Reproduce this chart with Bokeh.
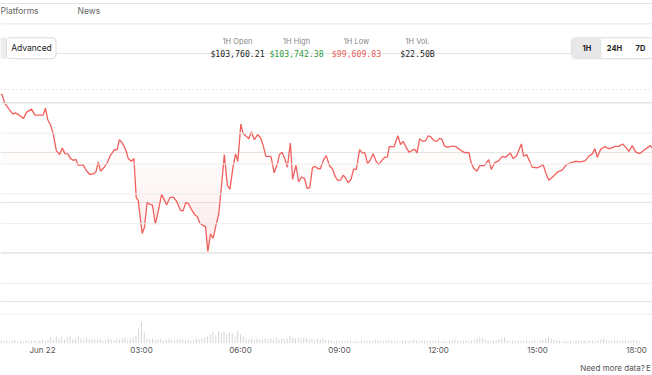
import numpy as np
from bokeh.plotting import figure
from bokeh.models import Range1d, FixedTicker, Span, LinearAxis
from bokeh.core.properties import value
from bokeh.embed import file_html
from bokeh.resources import INLINE

# ---- price series (hours after Jun 22 00:00, USD) ----
times = [-1.27,-1.22,-1.15,-1.02,-0.90,-0.82,-0.72,-0.58,-0.48,-0.33,
         -0.23,0.02,0.09,0.16,0.24,0.32,0.42,0.52,0.60,0.68,
         0.77,0.85,0.93,1.01,1.08,1.23,1.33,1.43,1.55,1.62,
         1.69,1.76,1.86,1.96,2.06,2.18,2.26,2.33,2.42,2.52,
         2.60,2.69,2.77,2.84,2.90,3.02,3.09,3.17,3.25,3.33,
         3.42,3.51,3.61,3.73,
         3.76,3.86,3.96,4.06,4.18,4.26,4.34,4.42,4.54,4.62,
         4.69,4.77,4.89,4.94,5.01,5.09,5.17,5.26,5.34,5.42,
         5.51,5.60,5.68,5.77,5.85,5.92,6.01,6.08,6.18,6.25,
         6.33,6.42,6.52,6.61,6.68,6.77,6.89,6.93,7.02,7.11,
         7.18,7.26,7.34,7.42,7.51,7.58,7.68,7.76,7.85,7.94,
         8.02,8.10,8.18,8.25,8.34,8.42,
         8.52,8.60,8.70,8.78,8.88,8.95,9.03,9.11,9.18,9.26,
         9.35,9.43,9.51,9.61,9.69,9.77,9.85,9.94,10.02,10.10,
         10.19,10.28,10.37,10.45,10.51,10.65,10.77,10.85,10.93,11.03,
         11.11,11.21,11.28,11.35,11.43,11.52,11.61,11.69,11.77,11.86,
         11.95,12.03,12.10,12.18,12.28,12.38,12.51,12.60,12.72,12.80,
         12.92,12.99,13.07,13.17,13.25,
         13.39,13.52,13.60,13.70,13.83,13.93,14.03,14.18,14.26,14.36,
         14.51,14.58,14.67,14.74,14.84,14.99,15.09,15.17,15.26,15.34,
         15.48,15.62,15.75,15.86,16.00,16.15,16.30,16.45,16.55,16.66,
         16.74,16.81,16.91,17.03,17.16,17.26,17.36,17.46,17.58,17.68,
         17.77,17.87,17.97,18.10,18.22,18.42,18.48]
prices = [103587,103580,103500,103440,103387,103400,103380,103343,103407,103437,
          103377,103377,103447,103330,103280,103197,103020,102980,103047,102990,
          102987,102940,102923,102933,102873,102877,102820,102780,102787,102807,
          102907,102813,102847,102897,102973,103030,103027,103130,103097,103030,
          102940,102913,102940,102547,102520,102187,102247,102497,102480,102473,
          102280,102413,102580,102497,
          102473,102547,102553,102513,102420,102413,102497,102487,102413,102373,
          102357,102290,102263,102253,102007,102180,102137,102273,102380,102647,
          102980,102673,102630,102847,102987,102913,103287,103193,103163,103140,
          103210,103130,103180,103147,103080,102963,102963,102953,102797,102880,
          102980,103003,102940,102853,103097,102730,102873,102707,102753,102740,
          102640,102647,102847,102863,102840,102837,
          102930,102970,102863,102840,102753,102720,102723,102773,102747,102697,
          102730,102837,102830,103030,102997,102997,102890,102930,102990,102920,
          102880,102920,102953,102957,103063,103057,103170,103080,103113,103047,
          103003,103027,103033,102997,103140,103113,103120,103170,103157,103120,
          103113,103143,103137,103067,103053,103063,103063,103040,103013,103000,
          103003,102897,102840,102813,102870,
          102870,102930,102830,102897,102920,102963,102953,102997,102940,102963,
          103087,102963,102980,102930,102853,102847,102863,102880,102787,102723,
          102763,102807,102823,102873,102897,102913,102907,102920,102963,102987,
          103040,102953,103030,103060,103040,103047,103063,103063,103087,103053,
          103013,103070,103007,102990,103023,103070,103047]

# ---- 5-minute volume bars ----
vol_start = -1.25   # hours
vol_step = 5 / 60
volumes = ([30,20,30,20,30,30,20,30,20,30,20,30,30,20,30,40,30,40]
           + [60,40,70,50,70,40,60,70,40,50,70,50,40,60,40,50,40,40,50,30,40,50,40,30,50,40,50,60,40,50]
           + [60,80,150,220,110]
           + [50,40,50,40,40,50,30,40,50,40,30,40,50,40,30,40,30,40,50,40,50,60]
           + [70,90,120,80,120,110,120,90,110,100,70,120,90]
           + [70,50,40,50,40,50,40,40,50,40,50,40,60,40,50,40,50,80,60,50,60,50,60,50,40,50,40,50,40,50,40,30]
           + [30,20,30,20,30,20,30,30,20,30,20,30,20,30,30,20,40,30]
           + [30,20,30,40,30,20,30,20,30,30,20,30,40,30,20,30,30,20]
           + [30,30,20,30,20,30,20,30,30,40,30,20,30,30,20,30,40,50]
           + [60,50,40,30,20,30,30,40,50,60,30,20,30,20,30,30,20,30]
           + [20,30,30,20,30,40,50,60,50,40,30,30,20,30,20,30,20,30]
           + [30,20,30,20,30,30,20,30,40,50,40,30,20,30,30,20,30,30,20,30,40,30,20])
vol_times = [vol_start + i * vol_step for i in range(len(volumes))]

tick_hours = [0, 3, 6, 9, 12, 15, 18]
tick_labels = ["Jun 22", "03:00", "06:00", "09:00", "12:00", "15:00", "18:00"]
grid_prices = [103495, 103195, 102885, 102585, 102285, 101985, 101685, 101375]
high_marker = 103635
baseline = 102890

nav_items = ["Platforms", "News"]
stat_labels = ["1H Open", "1H High", "1H Low", "1H Vol."]
stat_values = ["$103,760.21", "$103,742.38", "$99,609.83", "$22.50B"]
stat_colors = ["#222222", "#2e9a3e", "#ec5a55", "#222222"]
range_buttons = ["1H", "24H", "7D"]
footer_texts = ["Need more data?", "E"]

LINE = "#f0605d"
FONT = "Inter"

p = figure(width=652, height=375, output_backend="svg", toolbar_location=None,
           x_range=Range1d(-42 / 33, 610 / 33), y_range=Range1d(101080, 104530),
           y_axis_location=None, min_border_left=0, min_border_right=0,
           min_border_top=0, min_border_bottom=30)
p.extra_x_ranges = {"ui": Range1d(0, 652)}
p.extra_y_ranges = {"ui": Range1d(345, 0), "vol": Range1d(0, 3450)}
p.outline_line_color = None
p.background_fill_color = "white"
p.border_fill_color = "white"
p.xgrid.visible = False

# x axis (time labels)
ax = p.xaxis[0]
ax.ticker = FixedTicker(ticks=tick_hours)
ax.major_label_overrides = dict(zip(tick_hours, tick_labels))
ax.axis_line_color = None
ax.major_tick_line_color = None
ax.minor_tick_line_color = None
ax.major_tick_out = 0
ax.minor_tick_out = 0
ax.major_label_standoff = 1
ax.major_label_text_font = FONT
ax.major_label_text_font_size = "8px"
ax.major_label_text_color = "#555555"

# footer line below the axis
foot = LinearAxis(x_range_name="ui", ticker=FixedTicker(ticks=[612, 648]),
                  major_label_overrides={612: footer_texts[0], 648: footer_texts[1]})
foot.axis_line_color = None
foot.major_tick_line_color = None
foot.minor_tick_line_color = None
foot.major_tick_out = 0
foot.minor_tick_out = 0
foot.major_label_standoff = 5
foot.major_label_text_font = FONT
foot.major_label_text_font_size = "8px"
foot.major_label_text_color = "#555555"
p.add_layout(foot, "below")

# horizontal grid lines
for gp in grid_prices:
    p.add_layout(Span(location=gp, dimension="width", line_color="#ededed",
                      line_width=1))
p.add_layout(Span(location=high_marker, dimension="width", line_color="#d2d2d2",
                  line_dash="1 3", line_width=1))

# volume bars
p.vbar(x=vol_times, top=volumes, width=0.03, y_range_name="vol",
       fill_color="#d4d4d4", line_color=None)

# baseline gradient fill (bands built from the price series)
tt = np.linspace(times[0], times[-1], 3000)
pp = np.interp(tt, times, prices)


def runs(mask):
    out, start = [], None
    for i, m in enumerate(mask):
        if m and start is None:
            start = i
        elif not m and start is not None:
            out.append((max(start - 1, 0), i))
            start = None
    if start is not None:
        out.append((max(start - 1, 0), len(mask) - 1))
    return out


def band(lo, hi, below, alpha):
    xs, ys = [], []
    mask = pp < hi if below else pp > lo
    for a, b in runs(mask):
        xx = tt[a:b + 1]
        edge = np.clip(pp[a:b + 1], lo, hi)
        flat = np.full_like(xx, hi if below else lo)
        xs.append(np.concatenate([xx, xx[::-1]]).tolist())
        ys.append(np.concatenate([edge, flat[::-1]]).tolist())
    if xs:
        p.patches(xs, ys, fill_color="#ef5350", fill_alpha=alpha, line_color=None)


step = 50
for k in range(18):
    hi = baseline - k * step
    band(hi - step, hi, True, 0.025 + 0.006 * k)
for k in range(6):
    lo = baseline + k * step
    band(lo, lo + step, False, 0.022 - 0.0036 * k)

# price line
p.line(times, prices, line_color=LINE, line_width=1.3)

# ---- page chrome ----
p.text(x=[0, 77], y=[11, 11], text=nav_items, x_range_name="ui", y_range_name="ui",
       text_font=value(FONT), text_font_size="8.5px", text_color="#666666",
       text_align="left", text_baseline="middle")
p.segment(x0=[0], y0=[23.5], x1=[652], y1=[23.5], x_range_name="ui", y_range_name="ui",
          line_color="#e6e6e6", line_width=1)

# Advanced button
p.quad(left=[0], right=[6], top=[37.5], bottom=[58.5], x_range_name="ui",
       y_range_name="ui", fill_color="#ececec", line_color=None)
p.quad(left=[6], right=[55.5], top=[37.5], bottom=[58.5], x_range_name="ui",
       y_range_name="ui", fill_color="white", line_color="#dcdcdc", line_width=1,
       border_radius=4)
p.text(x=[31], y=[48], text=["Advanced"], x_range_name="ui", y_range_name="ui",
       text_font=value(FONT), text_font_size="8.5px", text_color="#222222",
       text_align="center", text_baseline="middle")

# stats
stat_x = [237, 296, 356, 417]
p.text(x=stat_x, y=[41] * 4, text=stat_labels, x_range_name="ui", y_range_name="ui",
       text_font=value(FONT), text_font_size="7.5px", text_color="#888888",
       text_align="center", text_baseline="middle")
p.text(x=stat_x, y=[54] * 4, text=stat_values, color=stat_colors, x_range_name="ui",
       y_range_name="ui", text_font=value("DejaVu Sans Mono"), text_font_size="8.2px",
       text_align="center", text_baseline="middle")

# range buttons
p.quad(left=[571], right=[660], top=[37.5], bottom=[58.5], x_range_name="ui",
       y_range_name="ui", fill_color="white", line_color="#dcdcdc", line_width=1,
       border_radius=4)
p.quad(left=[571.5], right=[601], top=[38], bottom=[58], x_range_name="ui",
       y_range_name="ui", fill_color="#e8e8e8", line_color=None, border_radius=3)
p.text(x=[586.5, 614, 640], y=[48] * 3, text=range_buttons, x_range_name="ui",
       y_range_name="ui", text_font=value(FONT), text_font_size="7.5px",
       text_font_style="bold", text_color="#222222", text_align="center",
       text_baseline="middle")

open("out.html", "w").write(file_html(p, INLINE))
